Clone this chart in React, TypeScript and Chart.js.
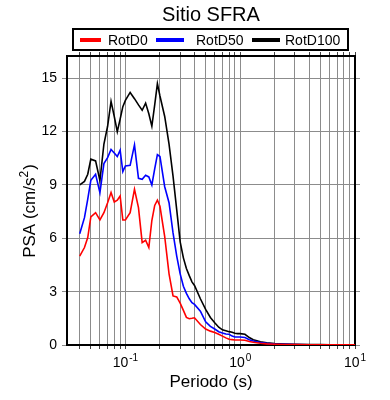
import { useEffect, useRef } from 'react';
import { Chart, registerables } from 'chart.js';

Chart.register(...registerables);

const FONT = '"Liberation Sans", Arial, Helvetica, sans-serif';

const chartTitle = 'Sitio SFRA';
const xTitle = 'Periodo (s)';
const yTitleMain = 'PSA (cm/s';
const yTitleSup = '2';
const yTitleEnd = ')';

const periods = [
  0.04, 0.044, 0.047, 0.05, 0.055, 0.06, 0.065, 0.07, 0.075, 0.08, 0.085, 0.09, 0.095,
  0.1, 0.11, 0.12, 0.13, 0.14, 0.15, 0.16, 0.17, 0.18, 0.19, 0.2, 0.22, 0.24, 0.26, 0.28,
  0.3, 0.32, 0.34, 0.36, 0.38, 0.4, 0.45, 0.5, 0.55, 0.6, 0.65, 0.7, 0.75, 0.8, 0.85, 0.9,
  0.95, 1.0, 1.1, 1.2, 1.3, 1.5, 1.7, 2.0, 2.5, 3.0, 4.0, 5.0, 6.0, 7.0, 8.0, 10.0,
];

const rotD0 = [
  5.0, 5.48, 6.04, 7.2, 7.44, 7.03, 7.44, 8.0, 8.57, 8.04, 8.14, 8.38, 7.03,
  7.03, 7.44, 8.76, 7.72, 5.76, 5.89, 5.48, 7.0, 7.85, 8.15, 7.8, 6.1, 4.0, 2.76, 2.7,
  2.35, 1.95, 1.55, 1.48, 1.5, 1.53, 1.15, 0.9, 0.78, 0.7, 0.6, 0.5, 0.4, 0.32, 0.3, 0.28,
  0.28, 0.28, 0.27, 0.2, 0.15, 0.1, 0.065, 0.045, 0.028, 0.02, 0.014, 0.011, 0.009, 0.007, 0.006, 0.005,
];

const rotD50 = [
  6.26, 7.16, 8.2, 9.26, 9.6, 8.57, 10.2, 10.54, 11.0, 10.8, 10.6, 10.95, 9.75,
  10.07, 10.1, 11.25, 9.37, 9.32, 9.54, 9.45, 9.0, 9.9, 10.7, 10.6, 8.9, 8.0, 6.3, 5.0,
  4.0, 3.3, 2.9, 2.6, 2.38, 2.28, 1.9, 1.3, 1.05, 0.9, 0.75, 0.68, 0.62, 0.6, 0.5, 0.45,
  0.45, 0.45, 0.42, 0.3, 0.22, 0.14, 0.09, 0.06, 0.035, 0.025, 0.018, 0.014, 0.011, 0.009, 0.008, 0.006,
];

const rotD100 = [
  9.0, 9.2, 9.6, 10.45, 10.35, 9.25, 11.3, 12.3, 13.7, 12.85, 12.0, 12.7, 13.4,
  13.75, 14.2, 13.85, 13.5, 13.2, 13.6, 13.0, 12.3, 13.5, 14.7, 14.0, 12.85, 11.3, 9.5, 7.6,
  5.8, 4.9, 4.3, 3.9, 3.55, 3.35, 2.6, 2.0, 1.55, 1.25, 1.0, 0.85, 0.8, 0.75, 0.72, 0.66,
  0.64, 0.64, 0.6, 0.42, 0.3, 0.18, 0.12, 0.08, 0.05, 0.035, 0.025, 0.02, 0.015, 0.012, 0.01, 0.008,
];

const seriesLabels = ['RotD0', 'RotD50', 'RotD100'];
const seriesColors = ['#ff0000', '#0000ff', '#000000'];

const yTickValues = [0, 3, 6, 9, 12, 15];
const xGridValues = [
  0.04, 0.05, 0.06, 0.07, 0.08, 0.09,
  0.1, 0.2, 0.3, 0.4, 0.5, 0.6, 0.7, 0.8, 0.9,
  1, 2, 3, 4, 5, 6, 7, 8, 9, 10,
];
const xLabelExponents = [-1, 0, 1];

const X_MIN = 0.031;
const X_MAX = 10;
const Y_MIN = 0;
const Y_MAX = 16.25;

const GRID = '#8c8c8c';

const decorPlugin = {
  id: 'decor',
  afterDraw(chart: any) {
    const { ctx, chartArea } = chart;
    const xs = chart.scales.x;
    ctx.save();
    ctx.fillStyle = '#000';
    // title
    ctx.font = `20px ${FONT}`;
    ctx.textAlign = 'center';
    ctx.textBaseline = 'alphabetic';
    ctx.fillText(chartTitle, (chartArea.left + chartArea.right) / 2, 21);

    // legend
    ctx.lineWidth = 2;
    ctx.strokeStyle = '#000';
    ctx.strokeRect(73, 29, 275, 21);
    const items = [
      { x: 80, w: 21, tx: 108 },
      { x: 156, w: 28, tx: 196 },
      { x: 252, w: 28, tx: 285 },
    ];
    ctx.font = `14px ${FONT}`;
    ctx.textAlign = 'left';
    chart.data.datasets.forEach((ds: any, i: number) => {
      const it = items[i];
      ctx.strokeStyle = ds.borderColor;
      ctx.lineWidth = 4;
      ctx.beginPath();
      ctx.moveTo(it.x, 40);
      ctx.lineTo(it.x + it.w, 40);
      ctx.stroke();
      ctx.fillStyle = '#000';
      ctx.fillText(ds.label, it.tx, 45);
    });

    // x tick labels with exponents
    xLabelExponents.forEach((e) => {
      const px = xs.getPixelForValue(Math.pow(10, e));
      const base = '10';
      const sup = e < 0 ? '-' + Math.abs(e) : String(e);
      ctx.font = `14px ${FONT}`;
      const w1 = ctx.measureText(base).width;
      ctx.font = `10px ${FONT}`;
      const w2 = ctx.measureText(sup).width;
      const start = px - (w1 + w2 + 1) / 2;
      ctx.fillStyle = '#000';
      ctx.textAlign = 'left';
      ctx.font = `14px ${FONT}`;
      ctx.fillText(base, start, 367);
      ctx.font = `10px ${FONT}`;
      ctx.fillText(sup, start + w1 + 1, 361);
    });

    // y axis title (rotated, with superscript)
    ctx.font = `17px ${FONT}`;
    const wMain = ctx.measureText(yTitleMain).width;
    const wEnd = ctx.measureText(yTitleEnd).width;
    ctx.font = `12px ${FONT}`;
    const wSup = ctx.measureText(yTitleSup).width;
    const total = wMain + wSup + 1 + wEnd;
    ctx.translate(29, 211);
    ctx.rotate(-Math.PI / 2);
    let u = -total / 2;
    ctx.fillStyle = '#000';
    ctx.font = `17px ${FONT}`;
    ctx.fillText(yTitleMain, u, 6);
    u += wMain;
    ctx.font = `12px ${FONT}`;
    ctx.fillText(yTitleSup, u, -1);
    u += wSup + 1;
    ctx.font = `17px ${FONT}`;
    ctx.fillText(yTitleEnd, u, 6);
    ctx.restore();
  },
};

export default function App() {
  const ref = useRef<HTMLCanvasElement | null>(null);

  useEffect(() => {
    if (!ref.current) return;
    const setX = (s: any) => {
      s.ticks = xGridValues.map((v) => ({ value: v }));
    };
    const setY = (s: any) => {
      s.ticks = yTickValues.map((v) => ({ value: v }));
    };
    const chart = new Chart(ref.current, {
      type: 'line',
      data: {
        labels: periods,
        datasets: [rotD0, rotD50, rotD100].map((vals, i) => ({
          label: seriesLabels[i],
          data: vals.map((v, j) => ({ x: periods[j], y: v })),
          borderColor: seriesColors[i],
          backgroundColor: seriesColors[i],
          borderWidth: 1.6,
          pointRadius: 0,
          tension: 0,
          fill: false,
        })),
      },
      options: {
        responsive: false,
        animation: false,
        events: [],
        layout: { padding: 0 },
        plugins: {
          legend: { display: false },
          title: { display: false },
          tooltip: { enabled: false },
        },
        scales: {
          x: {
            type: 'logarithmic',
            position: 'bottom',
            min: X_MIN,
            max: X_MAX,
            afterBuildTicks: setX,
            afterFit: (s: any) => { s.height = 55; },
            ticks: { display: false },
            grid: { color: GRID, lineWidth: 1, tickLength: 4, tickColor: '#444' },
            border: { color: '#000', width: 2 },
            title: {
              display: true,
              text: xTitle,
              color: '#000',
              font: { family: FONT, size: 17 },
              padding: { top: 0, bottom: 7 },
            },
          },
          x2: {
            type: 'logarithmic',
            position: 'top',
            min: X_MIN,
            max: X_MAX,
            afterBuildTicks: setX,
            afterFit: (s: any) => { s.height = 56; },
            ticks: { display: false },
            grid: { drawOnChartArea: false, tickLength: 4, tickColor: '#444' },
            border: { color: '#000', width: 2 },
          },
          y: {
            type: 'linear',
            position: 'left',
            min: Y_MIN,
            max: Y_MAX,
            afterBuildTicks: setY,
            afterFit: (s: any) => { s.width = 67; },
            ticks: {
              color: '#000',
              padding: 5,
              font: { family: FONT, size: 14 },
            },
            grid: { color: GRID, lineWidth: 1, tickLength: 5, tickColor: GRID },
            border: { color: '#000', width: 2 },
          },
          y2: {
            type: 'linear',
            position: 'right',
            min: Y_MIN,
            max: Y_MAX,
            afterBuildTicks: setY,
            afterFit: (s: any) => { s.width = 35; },
            ticks: { display: false },
            grid: { drawOnChartArea: false, tickLength: 5, tickColor: GRID },
            border: { color: '#000', width: 2 },
          },
        },
      },
      plugins: [decorPlugin],
    } as any);
    return () => chart.destroy();
  }, []);

  return (
    <div style={{ position: 'absolute', left: 0, top: 0, width: 390, height: 400, background: '#fff' }}>
      <canvas ref={ref} width={390} height={400} style={{ width: 390, height: 400 }} />
    </div>
  );
}
